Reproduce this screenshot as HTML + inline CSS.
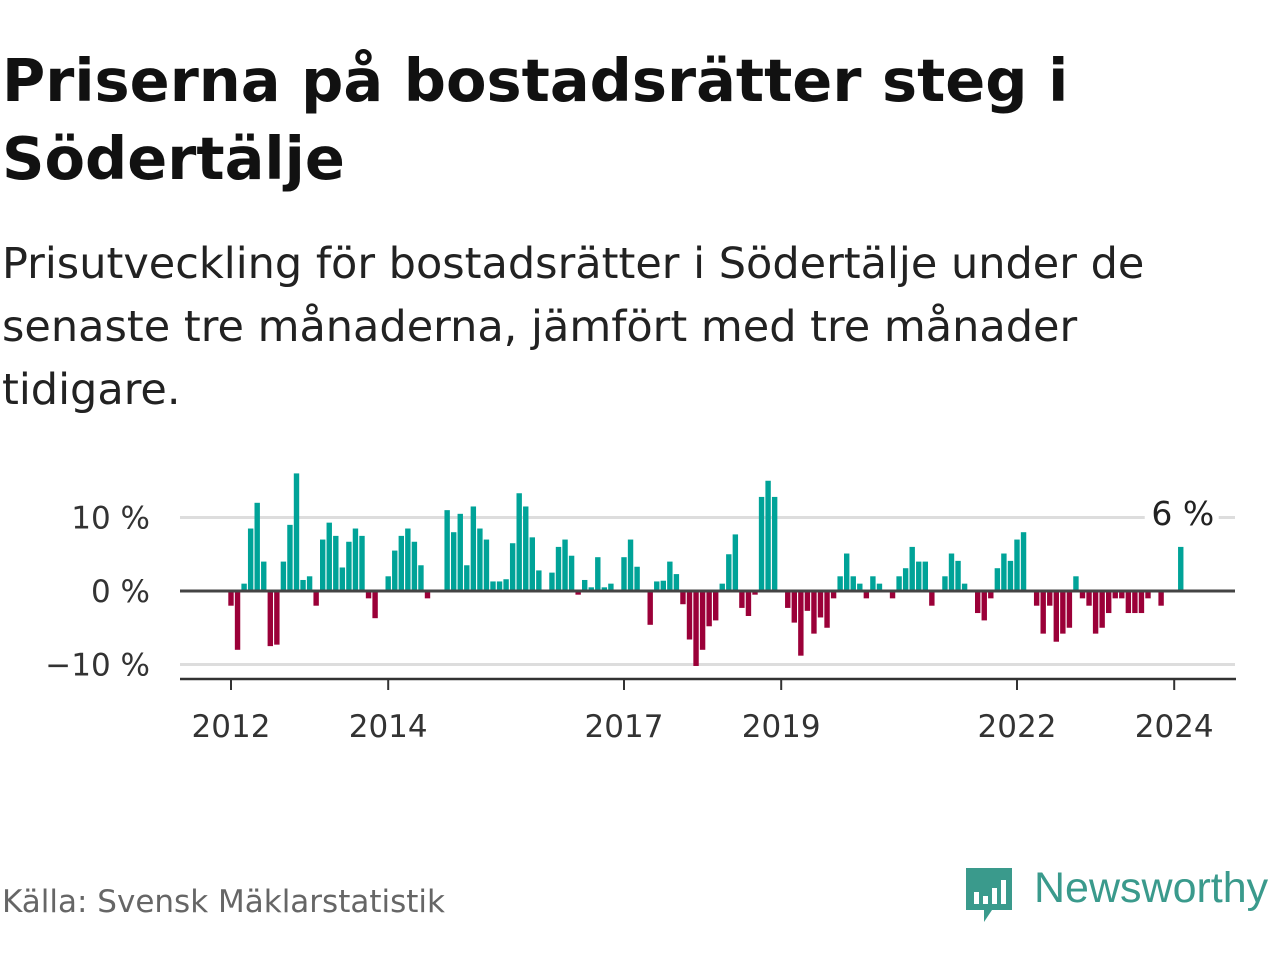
<!DOCTYPE html>
<html><head><meta charset="utf-8"><style>
body{margin:0;width:1280px;height:960px;background:#fff;font-family:"DejaVu Sans","Liberation Sans",sans-serif;overflow:hidden;position:relative}
h1{position:absolute;left:2px;top:42px;margin:0;font-size:59px;line-height:78px;font-weight:bold;color:#111}
.sub{position:absolute;left:2px;top:233px;margin:0;font-size:43px;line-height:63px;color:#222}
.src{position:absolute;left:2px;top:884px;font-size:31px;color:#666}
</style></head><body>
<h1>Priserna på bostadsrätter steg i<br>Södertälje</h1>
<p class="sub">Prisutveckling för bostadsrätter i Södertälje under de<br>senaste tre månaderna, jämfört med tre månader<br>tidigare.</p>
<svg id="chart" width="1280" height="960" style="position:absolute;left:0;top:0;font-family:'DejaVu Sans',sans-serif"></svg>
<div class="src">Källa: Svensk Mäklarstatistik</div>
<div style="position:absolute;left:964px;top:864px;width:316px;height:60px">
<svg width="52" height="60" style="position:absolute;left:0;top:2px"><path d="M2 2h46v42h-20l-8 12v-12h-18z" fill="#3a9a8c"/><rect x="10" y="26" width="5" height="12" fill="#fff"/><rect x="19" y="30" width="5" height="8" fill="#fff"/><rect x="28" y="22" width="5" height="16" fill="#fff"/><rect x="37" y="14" width="5" height="24" fill="#fff"/></svg>
<span style="position:absolute;left:70px;top:0;font-size:43px;color:#3a9a8c;font-family:'Liberation Sans',sans-serif">Newsworthy</span></div>
<script>
const values=[-2,-8,1,8.5,12,4,-7.5,-7.3,4,9,16,1.5,2,-2,7,9.3,7.5,3.2,6.7,8.5,7.5,-1,-3.7,0,2,5.5,7.5,8.5,6.7,3.5,-1,0,0,11,8,10.5,3.5,11.5,8.5,7,1.3,1.3,1.6,6.5,13.3,11.5,7.3,2.8,0,2.5,6,7,4.8,-0.5,1.5,0.5,4.6,0.5,1,0,4.6,7,3.3,0,-4.6,1.3,1.4,4,2.3,-1.8,-6.6,-10.2,-8,-4.8,-4,1,5,7.7,-2.3,-3.4,-0.5,12.8,15,12.8,0,-2.3,-4.3,-8.8,-2.7,-5.8,-3.6,-5,-1,2,5.1,2,1,-1,2,1,0,-1,2,3.1,6,4,4,-2,0,2,5.1,4.1,1,0,-3,-4,-1,3.1,5.1,4.1,7,8,0,-2,-5.8,-2,-6.9,-5.8,-5,2,-1,-2,-5.8,-5,-3,-1,-1,-3,-3,-3,-1,0,-2,0,0,6];
const yTicks=[10,0,-10];
const yTickLabels=["10 %","0 %","−10 %"];
const xTickYears=[2012,2014,2017,2019,2022,2024];
const startYear=2012;
const svg=document.getElementById('chart');
const NS='http://www.w3.org/2000/svg';
const x=i=>231+i*6.55;
const xYear=yr=>x((yr-startYear)*12);
const y=v=>591-v*7.35;
function el(t,a){const e=document.createElementNS(NS,t);for(const k in a)e.setAttribute(k,a[k]);svg.appendChild(e);return e;}
yTicks.forEach((t,k)=>{
 if(t!==0){const g=el('line',{x1:180,x2:1235,y1:y(t),y2:y(t),stroke:'#ddd','stroke-width':3});
 
 }
 const tx=el('text',{x:150,y:y(t)+11,'text-anchor':'end','font-size':31,fill:'#333'});
 tx.textContent=yTickLabels[k];
 
 
});
values.forEach((v,i)=>{
 const r=el('rect',{x:x(i)-2.7,width:5.4,y:v>=0?y(v):y(0),height:Math.abs(y(v)-y(0)),fill:v>=0?'#00a398':'#9b0038'});
 
 
});
const z=el('line',{x1:180,x2:1235,y1:y(0),y2:y(0),stroke:'#444','stroke-width':3});


const ax=el('line',{x1:180,x2:1236,y1:679,y2:679,stroke:'#333','stroke-width':2.5});


xTickYears.forEach(yr=>{
 const tk=el('line',{x1:xYear(yr),x2:xYear(yr),y1:679,y2:690,stroke:'#333','stroke-width':2});
 
 
 const t=el('text',{x:xYear(yr),y:737,'text-anchor':'middle','font-size':31,fill:'#333'});
 t.textContent=yr;
 
 
});
const last=values.length-1;
const bg=el('rect',{x:x(last)-36,y:492,width:74,height:38,fill:'#fff'});


const lab=el('text',{x:x(last)+2,y:525,'text-anchor':'middle','font-size':33,fill:'#222'});
lab.textContent=Math.round(values[last])+' %';


</script>
</body></html>
